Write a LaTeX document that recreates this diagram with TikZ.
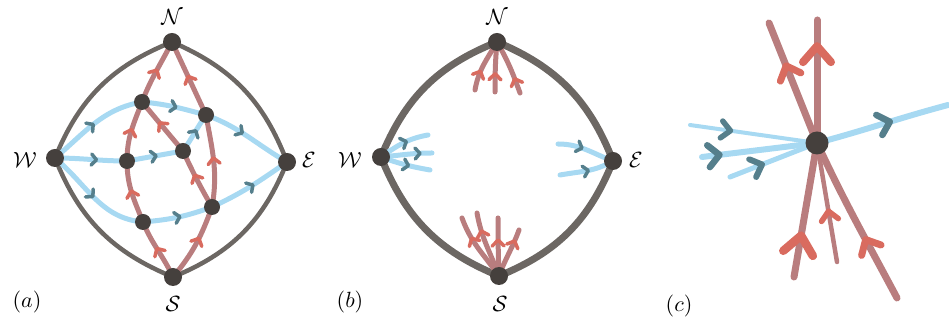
\documentclass[tikz,border=0pt]{standalone}
\usetikzlibrary{arrows.meta,decorations.markings,backgrounds}
\definecolor{rimgrey}{HTML}{6C6763}
\definecolor{dotgrey}{HTML}{45403D}
\definecolor{flowblue}{HTML}{A7D9F2}
\definecolor{tipblue}{HTML}{557F8C}
\definecolor{flowred}{HTML}{B97D7E}
\definecolor{tipred}{HTML}{D96B5F}
\begin{document}
\begin{tikzpicture}[x=1pt, y=1pt,
    dot/.style={circle, fill=dotgrey, inner sep=0pt, minimum size=16pt},
    bigdot/.style={dot, minimum size=18pt},
    lab/.style={inner sep=0pt, scale=2.2, transform shape},
    rim/.style={draw=rimgrey, line width=4.5pt},
    blueflow/.style={draw=flowblue, line width=5pt, line cap=round},
    redflow/.style={draw=flowred, line width=5pt, line cap=round},
    btip/.tip={Straight Barb[length=5pt, width=11pt, line width=3.5pt, round, color=tipblue]},
    rtip/.tip={Straight Barb[length=6pt, width=12pt, line width=3.5pt, round, color=tipred]},
    fmark/.style 2 args={postaction={decorate, decoration={markings,
        mark=at position #1 with {\arrow{#2}}}}},
    bmark/.style={fmark={#1}{btip}},
    rmark/.style={fmark={#1}{rtip}}]
  \useasboundingbox (0,0) rectangle (949,328);

  % (a) the full net
  \node[bigdot] (aN) at (172,286) {};
  \node[bigdot] (aS) at (173,51) {};
  \node[bigdot] (aW) at (55,170) {};
  \node[bigdot] (aE) at (287,166) {};
  \node[dot] (aA) at (142,226) {};
  \node[dot] (aB) at (206,213) {};
  \node[dot] (aC) at (127,167) {};
  \node[dot] (aD) at (183,177) {};
  \node[dot] (aF) at (143,106) {};
  \node[dot] (aG) at (212,121) {};
  \node[lab] (aNl) at (172,311) {$\mathcal{N}$};
  \node[lab] (aSl) at (173,24) {$\mathcal{S}$};
  \node[lab] (aWl) at (25,168) {$\mathcal{W}$};
  \node[lab] (aEl) at (309,168) {$\mathcal{E}$};
  \node[lab] (aname) at (27,26) {$(a)$};
  \begin{scope}[on background layer]
    \draw[rim] (aW.center) to[bend left=23] (aN.center) to[bend left=23] (aE.center)
      to[bend left=23] (aS.center) to[bend left=23] (aW.center);
    % blue lines
    \draw[blueflow, bmark=0.5] (aW.center) to[out=40, in=190] (aA.center);
    \draw[blueflow, bmark=0.55] (aA.center) to[out=-5, in=165] (aB.center);
    \draw[blueflow, bmark=0.45] (aB.center) to[out=-20, in=150] (aE.center);
    \draw[blueflow, bmark=0.6] (aW.center) to[out=0, in=180] (aC.center);
    \draw[blueflow, bmark=0.55] (aC.center) to[out=10, in=190] (aD.center);
    \draw[blueflow, bmark=0.6] (aD.center) to[out=55, in=235] (aB.center);
    \draw[blueflow, bmark=0.5] (aW.center) to[out=-40, in=175] (aF.center);
    \draw[blueflow, bmark=0.55] (aF.center) to[out=5, in=200] (aG.center);
    \draw[blueflow, bmark=0.55] (aG.center) to[out=25, in=215] (aE.center);
    % red lines
    \draw[redflow, rmark=0.55] (aS.center) to[out=115, in=-68] (aF.center);
    \draw[redflow, rmark=0.55] (aF.center) to[out=112, in=-90] (aC.center);
    \draw[redflow, rmark=0.55] (aC.center) to[out=90, in=-111] (aA.center);
    \draw[redflow, rmark=0.55] (aA.center) to[out=69, in=-117] (aN.center);
    \draw[redflow, rmark=0.6] (aS.center) to[out=50, in=-110] (aG.center);
    \draw[redflow, rmark=0.55] (aG.center) to[out=80, in=-80] (aB.center);
    \draw[redflow, rmark=0.55] (aB.center) to[out=115, in=-65] (aN.center);
    \draw[redflow, rmark=0.6] (aG.center) to[out=120, in=-65] (aD.center);
    \draw[redflow, rmark=0.6] (aD.center) to[out=130, in=-50] (aA.center);
  \end{scope}

  % (b) only the ends
  \node[bigdot] (bN) at (497,286) {};
  \node[bigdot] (bS) at (499,52) {};
  \node[bigdot] (bW) at (381,171) {};
  \node[bigdot] (bE) at (613,167) {};
  \node[lab] (bNl) at (497,311) {$\mathcal{N}$};
  \node[lab] (bSl) at (500,24) {$\mathcal{S}$};
  \node[lab] (bWl) at (350,168) {$\mathcal{W}$};
  \node[lab] (bEl) at (636,168) {$\mathcal{E}$};
  \node[lab] (bname) at (350,26) {$(b)$};
  \coordinate (bn1) at (475,238);
  \coordinate (bn2) at (495,236);
  \coordinate (bn3) at (520,235);
  \coordinate (bs1) at (462,110);
  \coordinate (bs2) at (477,115);
  \coordinate (bs3) at (498,110);
  \coordinate (bs4) at (519,98);
  \coordinate (bw1) at (428,193);
  \coordinate (bw2) at (432,175);
  \coordinate (bw3) at (430,158);
  \coordinate (be1) at (558,184);
  \coordinate (be2) at (560,153);
  \begin{scope}[on background layer]
    \draw[rim, line width=7pt] (bW.center) to[bend left=23] (bN.center) to[bend left=23] (bE.center)
      to[bend left=23] (bS.center) to[bend left=23] (bW.center);
    \draw[blueflow, bmark=0.6] (bW.center) to[out=35, in=190] (bw1);
    \draw[blueflow, bmark=0.8] (bW.center) to[out=5, in=180] (bw2);
    \draw[blueflow, bmark=0.6] (bW.center) to[out=-20, in=170] (bw3);
    \draw[blueflow, bmark=0.45] (be1) to[out=0, in=160] (bE.center);
    \draw[blueflow, bmark=0.55] (be2) to[out=10, in=210] (bE.center);
    \draw[redflow, rmark=0.4] (bn1) to[out=80, in=-120] (bN.center);
    \draw[redflow, rmark=0.4] (bn2) to[out=90, in=-95] (bN.center);
    \draw[redflow, rmark=0.3] (bn3) to[out=110, in=-60] (bN.center);
    \draw[redflow, rmark=0.7] (bS.center) to[out=125, in=-70] (bs1);
    \draw[redflow, rmark=0.75] (bS.center) to[out=110, in=-80] (bs2);
    \draw[redflow, rmark=0.65] (bS.center) to[out=92, in=-90] (bs3);
    \draw[redflow, rmark=0.8] (bS.center) to[out=70, in=-110] (bs4);
  \end{scope}

  % (c) one crossing close up
  \node[dot, minimum size=23pt] (cX) at (817,185) {};
  \node[lab] (cname) at (679,22) {$(c)$};
  \coordinate (cr1) at (769,305);
  \coordinate (cr2) at (817,308);
  \coordinate (cr3) at (794,51);
  \coordinate (cr4) at (837,66);
  \coordinate (cr5) at (897,30);
  \coordinate (cb1) at (690,203);
  \coordinate (cb2) at (702,171);
  \coordinate (cb3) at (730,151);
  \coordinate (cb4) at (948,223);
  \begin{scope}[on background layer]
    \draw[blueflow, line width=4pt, fmark={0.34}{btip[length=9pt, width=17pt, line width=5.5pt]}]
      (cb1) -- (cX.center);
    \draw[blueflow, line width=6pt, fmark={0.18}{btip[length=11pt, width=22pt, line width=6.5pt]}]
      (cb2) -- (cX.center);
    \draw[blueflow, line width=5pt, fmark={0.4}{btip[length=10pt, width=19pt, line width=6pt]}]
      (cb3) -- (cX.center);
    \draw[blueflow, line width=6pt, fmark={0.58}{btip[length=11pt, width=21pt, line width=6.5pt]}]
      (cX.center) to[out=15, in=195] (cb4);
    \draw[redflow, line width=7pt, fmark={0.67}{rtip[length=12pt, width=22pt, line width=7pt]}]
      (cX.center) -- (cr1);
    \draw[redflow, line width=7pt, fmark={0.82}{rtip[length=16pt, width=28pt, line width=8pt]}]
      (cX.center) -- (cr2);
    \draw[redflow, line width=7pt, fmark={0.34}{rtip[length=18pt, width=30pt, line width=8.5pt]}]
      (cr3) -- (cX.center);
    \draw[redflow, line width=4.5pt, fmark={0.45}{rtip[length=9pt, width=17pt, line width=5.5pt]}]
      (cr4) -- (cX.center);
    \draw[redflow, line width=7pt, fmark={0.4}{rtip[length=12pt, width=22pt, line width=7pt]}]
      (cr5) to[out=118, in=-65] (cX.center);
  \end{scope}
\end{tikzpicture}
\end{document}
